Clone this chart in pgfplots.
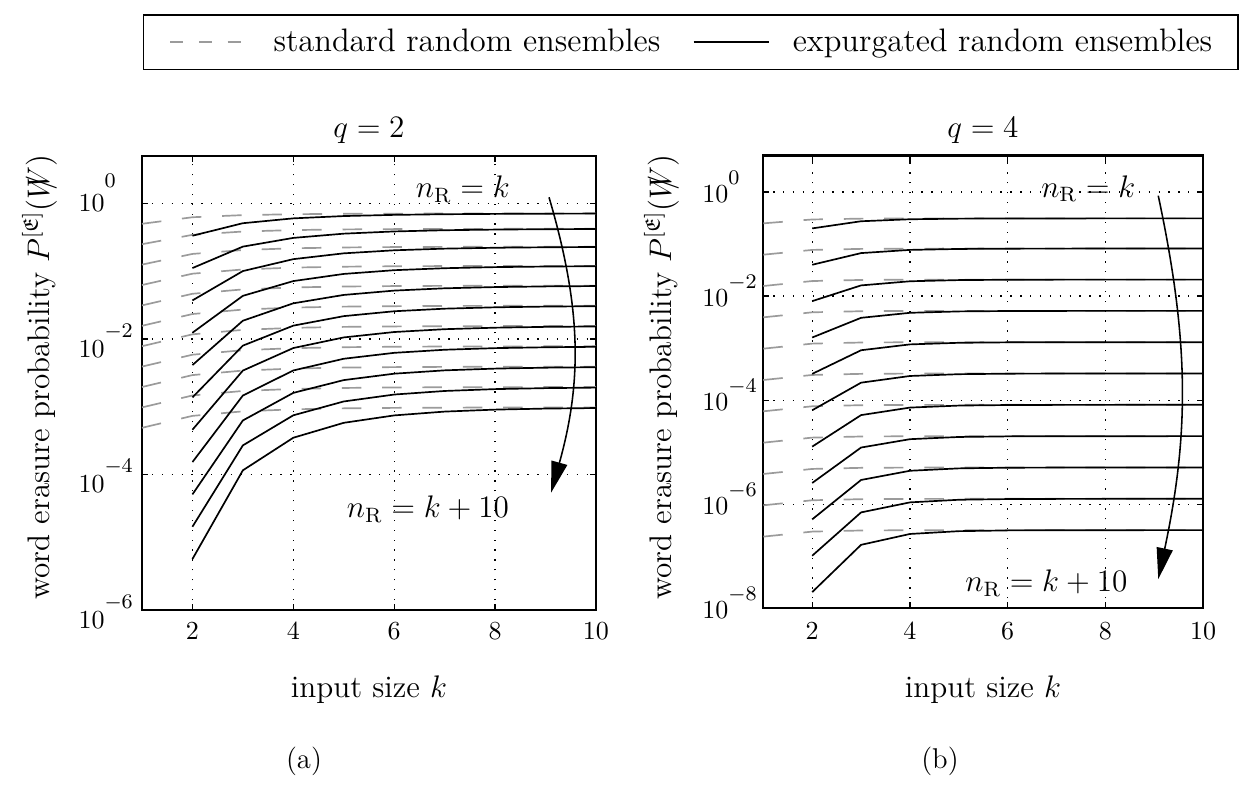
\documentclass[border=0pt]{standalone}
\usepackage{pgfplots}
\pgfplotsset{compat=1.18}
\usepackage{pgfplotstable}
\usepackage{amssymb}
\usetikzlibrary{arrows.meta}

\definecolor{stdgray}{RGB}{155,155,155}

% log10 of word erasure probability, q = 2, standard random ensembles (k = 1..10), n_R = k + i
\pgfplotstableread{
k s0 s1 s2 s3 s4 s5 s6 s7 s8 s9 s10
1 -0.3010 -0.6021 -0.9031 -1.2041 -1.5051 -1.8062 -2.1072 -2.4082 -2.7093 -3.0103 -3.3113
2 -0.2041 -0.4638 -0.7455 -1.0372 -1.3336 -1.6324 -1.9322 -2.2327 -2.5335 -2.8343 -3.1353
3 -0.1727 -0.4148 -0.6876 -0.9747 -1.2689 -1.5666 -1.8659 -2.1660 -2.4667 -2.7675 -3.0684
4 -0.1596 -0.3936 -0.6621 -0.9470 -1.2401 -1.5371 -1.8362 -2.1362 -2.4368 -2.7376 -3.0386
5 -0.1537 -0.3838 -0.6500 -0.9339 -1.2264 -1.5232 -1.8221 -2.1221 -2.4225 -2.7233 -3.0241
6 -0.1508 -0.3790 -0.6442 -0.9275 -1.2197 -1.5164 -1.8152 -2.1152 -2.4156 -2.7163 -3.0171
7 -0.1494 -0.3766 -0.6413 -0.9244 -1.2166 -1.5131 -1.8119 -2.1118 -2.4121 -2.7129 -3.0138
8 -0.1487 -0.3754 -0.6399 -0.9228 -1.2149 -1.5114 -1.8102 -2.1101 -2.4104 -2.7112 -3.0121
9 -0.1483 -0.3748 -0.6392 -0.9220 -1.2140 -1.5105 -1.8093 -2.1092 -2.4095 -2.7103 -3.0112
10 -0.1482 -0.3745 -0.6388 -0.9216 -1.2136 -1.5101 -1.8089 -2.1088 -2.4091 -2.7099 -3.0108
}\stdA

% q = 2, expurgated random ensembles (k = 2..10)
\pgfplotstableread{
k s0 s1 s2 s3 s4 s5 s6 s7 s8 s9 s10
2 -0.4771 -0.9542 -1.4314 -1.9085 -2.3856 -2.8627 -3.3398 -3.8170 -4.2941 -4.7712 -5.2483
3 -0.2923 -0.6377 -0.9984 -1.3640 -1.7311 -2.0987 -2.4667 -2.8347 -3.2027 -3.5707 -3.9387
4 -0.2206 -0.5090 -0.8226 -1.1463 -1.4742 -1.8038 -2.1343 -2.4650 -2.7958 -3.1268 -3.4578
5 -0.1866 -0.4464 -0.7368 -1.0407 -1.3507 -1.6635 -1.9776 -2.2924 -2.6074 -2.9225 -3.2377
6 -0.1690 -0.4137 -0.6919 -0.9856 -1.2867 -1.5915 -1.8979 -2.2051 -2.5127 -2.8205 -3.1284
7 -0.1595 -0.3957 -0.6674 -0.9562 -1.2527 -1.5534 -1.8562 -2.1595 -2.4636 -2.7678 -3.0721
8 -0.1544 -0.3861 -0.6544 -0.9401 -1.2346 -1.5332 -1.8338 -2.1356 -2.4378 -2.7403 -3.0429
9 -0.1515 -0.3807 -0.6472 -0.9314 -1.2248 -1.5223 -1.8219 -2.1229 -2.4241 -2.7258 -3.0276
10 -0.1499 -0.3778 -0.6433 -0.9267 -1.2195 -1.5165 -1.8156 -2.1161 -2.4169 -2.7181 -3.0195
}\expA

% q = 4, standard random ensembles (k = 1..10)
\pgfplotstableread{
k s0 s1 s2 s3 s4 s5 s6 s7 s8 s9 s10
1 -0.6021 -1.2041 -1.8062 -2.4082 -3.0103 -3.6124 -4.2144 -4.8165 -5.4185 -6.0206 -6.6227
2 -0.5274 -1.1127 -1.7106 -2.3117 -2.9134 -3.5155 -4.1175 -4.7196 -5.3216 -5.9237 -6.5258
3 -0.5117 -1.0928 -1.6898 -2.2906 -2.8922 -3.4943 -4.0963 -4.6984 -5.3004 -5.9025 -6.5046
4 -0.5079 -1.0880 -1.6847 -2.2854 -2.8871 -3.4891 -4.0912 -4.6933 -5.2953 -5.8974 -6.4994
5 -0.5069 -1.0868 -1.6832 -2.2841 -2.8858 -3.4877 -4.0898 -4.6918 -5.2939 -5.8960 -6.4980
6 -0.5066 -1.0865 -1.6831 -2.2838 -2.8855 -3.4874 -4.0895 -4.6915 -5.2936 -5.8957 -6.4977
7 -0.5066 -1.0865 -1.6831 -2.2838 -2.8855 -3.4874 -4.0895 -4.6915 -5.2936 -5.8957 -6.4977
8 -0.5066 -1.0865 -1.6831 -2.2838 -2.8855 -3.4874 -4.0895 -4.6915 -5.2936 -5.8957 -6.4977
9 -0.5066 -1.0865 -1.6831 -2.2838 -2.8855 -3.4874 -4.0895 -4.6915 -5.2936 -5.8957 -6.4977
10 -0.5066 -1.0865 -1.6831 -2.2838 -2.8855 -3.4874 -4.0895 -4.6915 -5.2936 -5.8957 -6.4977
}\stdB

% q = 4, expurgated random ensembles (k = 2..10)
\pgfplotstableread{
k s0 s1 s2 s3 s4 s5 s6 s7 s8 s9 s10
2 -0.6990 -1.3979 -2.0969 -2.7959 -3.4949 -4.1938 -4.8928 -5.5918 -6.2907 -6.9897 -7.6887
3 -0.5617 -1.1736 -1.7946 -2.4174 -3.0405 -3.6638 -4.2870 -4.9103 -5.5335 -6.1568 -6.7800
4 -0.5233 -1.1122 -1.7151 -2.3213 -2.9283 -3.5354 -4.1426 -4.7498 -5.3570 -5.9642 -6.5714
5 -0.5117 -1.0941 -1.6923 -2.2944 -2.8974 -3.5007 -4.1040 -4.7073 -5.3107 -5.9140 -6.5174
6 -0.5085 -1.0887 -1.6856 -2.2867 -2.8886 -3.4909 -4.0932 -4.6955 -5.2979 -5.9003 -6.5028
7 -0.5074 -1.0874 -1.6840 -2.2848 -2.8866 -3.4887 -4.0909 -4.6931 -5.2953 -5.8975 -6.4997
8 -0.5068 -1.0868 -1.6834 -2.2841 -2.8859 -3.4879 -4.0900 -4.6921 -5.2942 -5.8963 -6.4984
9 -0.5067 -1.0866 -1.6832 -2.2839 -2.8857 -3.4876 -4.0897 -4.6917 -5.2938 -5.8959 -6.4980
10 -0.5066 -1.0865 -1.6831 -2.2838 -2.8855 -3.4874 -4.0895 -4.6915 -5.2936 -5.8957 -6.4977
}\expB

% tick label 10^e: #1 vertical offset of the whole label, #2 raise of the exponent
\newcommand{\tl}[3]{\raisebox{#1}{10\raisebox{#2}{\footnotesize$#3$}}}

\pgfplotsset{
  stdline/.style={stdgray, line width=0.65pt, dash pattern=on 7.5pt off 8pt},
  expline/.style={black, line width=0.65pt},
  legstd/.style={legend image code/.code={\draw[stdgray, line width=0.65pt, dash pattern=on 5pt off 6pt] (0pt,0pt) -- (27pt,0pt);}},
  legexp/.style={legend image code/.code={\draw[black, line width=0.65pt] (0pt,0pt) -- (29pt,0pt);}},
  myaxis/.style={
    scale only axis,
    xmin=1, xmax=10,
    ymax=0.69897,
    xtick={2,4,6,8,10},
    tick align=inside,
    xtick pos=both, ytick pos=both,
    major tick length=2.3pt,
    tick style={black, line width=0.5pt},
    axis line style={line width=0.9pt},
    grid=major,
    major grid style={black, line width=0.5pt, dash pattern=on 0.5pt off 3.3pt},
    tick label style={font=\fontsize{10}{12}\selectfont},
    xticklabel style={anchor=base, inner sep=0pt},
    yticklabel style={anchor=base west, inner sep=0pt},
    clip=false,
  },
}

\begin{document}
\begin{tikzpicture}[x=0.384615pt, y=0.384615pt]
\path (0,0) rectangle (1247,789);

% ---------------- (a) q = 2 ----------------
\begin{axis}[myaxis,
  at={(54.615pt,68.846pt)}, anchor=south west,
  width=174.6pt, height=174.6pt,
  ymin=-6,
  ytick={-6,-4,-2,0},
  yticklabels={\tl{-7pt}{7.7pt}{-6},\tl{-7pt}{7.7pt}{-4},\tl{-7pt}{7.7pt}{-2},\tl{-3.3pt}{9.6pt}{0}},
  xticklabel style={yshift=-11.3pt},
  yticklabel style={xshift=-24.6pt},
  legend columns=2,
  legend style={at={(1.2093,1.2511)}, anchor=center, draw=black, line width=0.6pt,
    fill=white, font=\fontsize{12.5}{15}\selectfont, inner xsep=10pt, inner ysep=5.4pt,
    nodes={inner sep=0pt},
    /tikz/column 1/.style={column sep=12.3pt},
    /tikz/column 2/.style={column sep=12.5pt},
    /tikz/column 3/.style={column sep=8.8pt}},
]
\pgfplotsinvokeforeach{0,...,10}{
  \addplot[stdline, forget plot] table[x=k, y=s#1] {\stdA};
}
\pgfplotsinvokeforeach{0,...,10}{
  \addplot[expline, forget plot] table[x=k, y=s#1] {\expA};
}
\addlegendimage{legstd}
\addlegendentry{standard random ensembles}
\addlegendimage{legexp}
\addlegendentry{expurgated random ensembles}
\node[font=\large] at (axis cs:7.36,0.21) {$n_{\mathrm{R}}=k$};
\node[font=\large] at (axis cs:6.67,-4.51) {$n_{\mathrm{R}}=k+10$};
\draw[line width=0.6pt, -{Triangle[length=12pt,width=6.2pt]}]
  (axis cs:9.07,0.09) to[bend left=16] (axis cs:9.11,-4.27);
\end{axis}

% ---------------- (b) q = 4 ----------------
\begin{axis}[myaxis,
  at={(293.58pt,69.50pt)}, anchor=south west,
  width=169.2pt, height=174.1pt,
  ymin=-8,
  ytick={-8,-6,-4,-2,0},
  yticklabels={\tl{-4pt}{6.9pt}{-8},\tl{-4pt}{6.9pt}{-6},\tl{-4pt}{6.9pt}{-4},\tl{-4pt}{6.9pt}{-2},\tl{-4pt}{6.9pt}{0}},
  xticklabel style={yshift=-12pt},
  yticklabel style={xshift=-23.6pt},
]
\pgfplotsinvokeforeach{0,...,10}{
  \addplot[stdline, forget plot] table[x=k, y=s#1] {\stdB};
}
\pgfplotsinvokeforeach{0,...,10}{
  \addplot[expline, forget plot] table[x=k, y=s#1] {\expB};
}
\node[font=\large] at (axis cs:7.65,0.065) {$n_{\mathrm{R}}=k$};
\node[font=\large] at (axis cs:6.79,-7.52) {$n_{\mathrm{R}}=k+10$};
\draw[line width=0.6pt, -{Triangle[length=12pt,width=6.2pt]}]
  (axis cs:9.08,-0.07) to[bend left=12] (axis cs:9.08,-7.44);
\end{axis}

% titles, axis labels, captions
\node[font=\large, anchor=base] at (369,652) {$q=2$};
\node[font=\large, anchor=base] at (983,652) {$q=4$};
\node[font=\large, anchor=base] at (369,91.5) {input size $k$};
\node[font=\large, anchor=base] at (983,91.5) {input size $k$};
\node[font=\large, anchor=base, rotate=90, inner sep=0pt] at (49,412)
  {word erasure probability $P^{[\mathfrak{E}]}(\ooalign{$W$\cr\hfil$/$\hfil\cr})$};
\node[font=\large, anchor=base, rotate=90, inner sep=0pt] at (671,412)
  {word erasure probability $P^{[\mathfrak{E}]}(\ooalign{$W$\cr\hfil$/$\hfil\cr})$};
\node[font=\fontsize{11}{13}\selectfont, anchor=base] at (304,21) {(a)};
\node[font=\fontsize{11}{13}\selectfont, anchor=base] at (940,21) {(b)};
\end{tikzpicture}
\end{document}
